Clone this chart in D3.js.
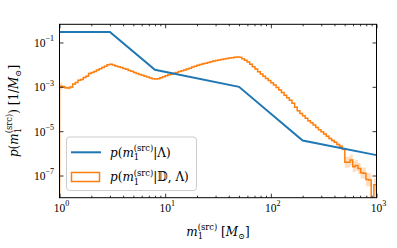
<!DOCTYPE html>
<html>
<head>
<meta charset="utf-8">
<script src="https://cdn.jsdelivr.net/npm/d3@7"></script>
<style>
  html, body { margin: 0; padding: 0; background: #fff; }
  svg { display: block; }
  text { fill: #000; }
</style>
</head>
<body>
<svg id="chart" width="397" height="248"></svg>
<script>
// ---------------- data ----------------
// population model p(m1|Λ): broken power law, read at its break points
const popMass = [1, 3, 8, 50, 200, 1000];
const popDens = [0.30, 0.30, 5.9e-3, 1.0e-3, 3.8e-6, 8.3e-7];

// posterior-predictive histogram p(m1|D,Λ): 120 log-spaced bins between 1 and 1000 Msun
const histRange = [1, 1000];
const histDens = [
  1.07e-3, 1.02e-3, 9.12e-4, 8.91e-4, 9.77e-4, 1.35e-3, 1.58e-3, 2.00e-3, 2.14e-3, 2.63e-3,
  3.02e-3, 3.98e-3, 4.37e-3, 4.90e-3, 5.75e-3, 6.46e-3, 7.41e-3, 8.51e-3, 9.77e-3, 1.05e-2,
  9.55e-3, 8.71e-3, 8.13e-3, 7.41e-3, 6.76e-3, 6.17e-3, 5.50e-3, 5.01e-3, 4.47e-3, 3.98e-3,
  3.63e-3, 3.31e-3, 3.02e-3, 2.75e-3, 2.51e-3, 2.29e-3, 2.24e-3, 2.29e-3, 2.57e-3, 2.88e-3,
  3.16e-3, 3.47e-3, 3.72e-3, 4.07e-3, 4.47e-3, 4.90e-3, 5.37e-3, 5.75e-3, 6.31e-3, 6.92e-3,
  7.76e-3, 8.51e-3, 9.33e-3, 1.02e-2, 1.10e-2, 1.17e-2, 1.26e-2, 1.35e-2, 1.45e-2, 1.55e-2,
  1.62e-2, 1.70e-2, 1.82e-2, 1.91e-2, 2.00e-2, 2.04e-2, 2.14e-2, 2.19e-2, 2.14e-2, 1.86e-2,
  1.58e-2, 1.32e-2, 1.05e-2, 8.13e-3, 6.31e-3, 4.79e-3, 3.80e-3, 3.02e-3, 2.40e-3, 1.91e-3,
  1.51e-3, 1.20e-3, 9.33e-4, 7.24e-4, 5.50e-4, 4.17e-4, 3.24e-4, 2.51e-4, 1.82e-4, 1.20e-4,
  8.32e-5, 6.31e-5, 5.01e-5, 3.80e-5, 2.95e-5, 2.40e-5, 1.91e-5, 1.48e-5, 1.17e-5, 9.33e-6,
  7.41e-6, 5.89e-6, 4.68e-6, 3.80e-6, 3.16e-6, 2.51e-6, 2.09e-6, 1.58e-6, 3.98e-7, 3.98e-7,
  5.01e-7, 2.51e-7, 2.82e-7, 2.09e-7, 1.32e-7, 1.26e-7, 6.61e-8, 6.31e-8, 0, 3.80e-8
];
// half-width of the shaded uncertainty band, in dex, per bin
const histErrDex = [
  0.15, 0.06, 0.06, 0.06, 0.06, 0.03, 0.03, 0.03, 0.03, 0.03,
  0.03, 0.03, 0.03, 0.03, 0.03, 0.03, 0.03, 0.03, 0.03, 0.03,
  0.02, 0.02, 0.02, 0.02, 0.02, 0.02, 0.02, 0.02, 0.02, 0.02,
  0.02, 0.02, 0.02, 0.02, 0.02, 0.02, 0.02, 0.02, 0.02, 0.02,
  0.02, 0.02, 0.02, 0.02, 0.02, 0.02, 0.02, 0.02, 0.02, 0.02,
  0.02, 0.02, 0.02, 0.02, 0.02, 0.02, 0.02, 0.02, 0.02, 0.02,
  0.02, 0.02, 0.02, 0.02, 0.02, 0.02, 0.02, 0.02, 0.02, 0.02,
  0.02, 0.02, 0.02, 0.02, 0.02, 0.02, 0.02, 0.02, 0.02, 0.02,
  0.03, 0.03, 0.03, 0.03, 0.03, 0.03, 0.03, 0.03, 0.03, 0.03,
  0.03, 0.03, 0.03, 0.03, 0.03, 0.03, 0.03, 0.03, 0.03, 0.03,
  0.06, 0.06, 0.06, 0.06, 0.06, 0.06, 0.08, 0.08, 0.25, 0.25,
  0.25, 0.25, 0.25, 0.25, 0.25, 0.25, 0.30, 0.30, 0, 0.30
];

const xMajor = [1, 10, 100, 1000];
const xMajorExp = ["0", "1", "2", "3"];
const yMajor = [1e-1, 1e-3, 1e-5, 1e-7];
const yMajorExp = ["\u22121", "\u22123", "\u22125", "\u22127"];
const legendLabels = ["\u039B", "\uD835\uDD3B, \u039B"];

// ---------------- layout ----------------
const svg = d3.select("#chart");
const L = 59.5, R = 376.5, T = 24.3, B = 197.7;
const x = d3.scaleLog().domain([1, 1000]).range([L, R]);
const y = d3.scaleLog().domain([1e-8, 0.66]).range([B, T]);
const BLUE = "#1f77b4", ORANGE = "#ff7f0e";
const SERIF = "'DejaVu Serif', serif";
const TICKF = "'Liberation Serif', serif";

svg.append("defs").append("clipPath").attr("id", "clip")
  .append("rect").attr("x", L).attr("y", T).attr("width", R - L).attr("height", B - T);

const plot = svg.append("g").attr("clip-path", "url(#clip)");

// bin edges
const nBins = histDens.length;
const lg0 = Math.log10(histRange[0]), lg1 = Math.log10(histRange[1]);
const edges = d3.range(nBins + 1).map(i => Math.pow(10, lg0 + (lg1 - lg0) * i / nBins));
const yv = v => v > 0 ? y(v) : B + 6;

// uncertainty band
const bandPts = edges.map((e, i) => {
  const k = Math.min(i, nBins - 1);
  const v = histDens[k], d = histErrDex[k];
  return { e, lo: v > 0 ? v * Math.pow(10, -d) : 0, hi: v > 0 ? v * Math.pow(10, d) : 0 };
});
plot.append("path")
  .attr("d", d3.area().curve(d3.curveStepAfter)
    .x(d => x(d.e)).y0(d => yv(d.lo)).y1(d => yv(d.hi))(bandPts))
  .attr("fill", ORANGE).attr("fill-opacity", 0.25).attr("stroke", "none");

// step histogram outline
const stepPts = [[x(edges[0]), B + 6]];
histDens.forEach((v, i) => {
  stepPts.push([x(edges[i]), yv(v)]);
  stepPts.push([x(edges[i + 1]), yv(v)]);
});
stepPts.push([x(edges[nBins]), B + 6]);
plot.append("path").attr("d", d3.line()(stepPts))
  .attr("fill", "none").attr("stroke", ORANGE).attr("stroke-width", 1.5)
  .attr("stroke-linejoin", "miter");

// population line
plot.append("path")
  .attr("d", d3.line().x((d, i) => x(popMass[i])).y(d => y(d))(popDens))
  .attr("fill", "none").attr("stroke", BLUE).attr("stroke-width", 2);

// ---------------- axes ----------------
const xMinor = [];
[1, 10, 100].forEach(b => d3.range(2, 10).forEach(k => xMinor.push(b * k)));

function axisG(axisFn, scale, vals, size, tx, ty) {
  const g = svg.append("g").attr("transform", `translate(${tx},${ty})`)
    .call(axisFn(scale).tickValues(vals).tickSize(size).tickFormat(""));
  g.select(".domain").remove();
  g.selectAll(".tick line").attr("stroke", "#000").attr("stroke-width", 0.8);
  return g;
}
axisG(d3.axisBottom, x, xMajor, -4, 0, B);
axisG(d3.axisBottom, x, xMinor, -2, 0, B);
axisG(d3.axisTop, x, xMajor, -4, 0, T);
axisG(d3.axisTop, x, xMinor, -2, 0, T);
axisG(d3.axisLeft, y, yMajor, -4, L, 0);
axisG(d3.axisRight, y, yMajor, -4, R, 0);

svg.append("rect").attr("x", L).attr("y", T).attr("width", R - L).attr("height", B - T)
  .attr("fill", "none").attr("stroke", "#000").attr("stroke-width", 1);

// ---------------- math text helper ----------------
function mathText(parent, px, py, parts, opts) {
  const fs = opts.size, small = fs * 0.7, fam = opts.family || SERIF;
  const g = parent.append("g");
  let cx = 0;
  parts.forEach(p => {
    if (p.sub !== undefined || p.sup !== undefined) {
      let w = 0;
      if (p.sub !== undefined) {
        const t = g.append("text").attr("x", cx).attr("y", fs * 0.3)
          .style("font-family", fam).style("font-size", small + "px").text(p.sub);
        w = Math.max(w, t.node().getComputedTextLength());
      }
      if (p.sup !== undefined) {
        const t = g.append("text").attr("x", cx).attr("y", -fs * (p.supUp || 0.42))
          .style("font-family", fam).style("font-size", small + "px").text(p.sup);
        w = Math.max(w, t.node().getComputedTextLength());
      }
      cx += w;
    } else {
      const t = g.append("text").attr("x", cx).attr("y", 0)
        .style("font-family", fam).style("font-size", fs + "px")
        .style("font-style", p.it ? "italic" : "normal")
        .attr("xml:space", "preserve").text(p.t);
      cx += t.node().getComputedTextLength() + (p.gap || 0);
    }
  });
  const shift = opts.anchor === "middle" ? -cx / 2 : opts.anchor === "end" ? -cx : 0;
  if (opts.rotate) {
    g.attr("transform", `translate(${px},${py}) rotate(-90) translate(${shift},0)`);
  } else {
    g.attr("transform", `translate(${px + shift},${py})`);
  }
  return g;
}

// tick labels
xMajor.forEach((v, i) => {
  mathText(svg, x(v) + 2, 211.5, [{ t: "10" }, { sup: xMajorExp[i], supUp: 0.5 }],
    { size: 11.5, anchor: "middle", family: TICKF });
});
yMajor.forEach((v, i) => {
  mathText(svg, 54, y(v) + 4.5, [{ t: "10" }, { sup: yMajorExp[i], supUp: 0.5 }],
    { size: 11.5, anchor: "end", family: TICKF });
});

// axis labels
mathText(svg, 218, 235.5,
  [{ t: "m", it: true }, { sub: "1", sup: "(src)" }, { t: " [" }, { t: "M", it: true }, { sub: "\u2299" }, { t: "]" }],
  { size: 12, anchor: "middle" });
mathText(svg, 17.5, 111,
  [{ t: "p", it: true }, { t: "(" }, { t: "m", it: true }, { sub: "1", sup: "(src)" }, { t: ") [1/" },
   { t: "M", it: true }, { sub: "\u2299" }, { t: "]" }],
  { size: 12, anchor: "middle", rotate: true });

// ---------------- legend ----------------
const leg = svg.append("g");
leg.append("rect").attr("x", 66.5).attr("y", 137).attr("width", 130).attr("height", 53.5)
  .attr("rx", 3).attr("fill", "#fff").attr("fill-opacity", 0.8)
  .attr("stroke", "#ccc").attr("stroke-width", 1);
leg.append("line").attr("x1", 71).attr("x2", 101).attr("y1", 152.3).attr("y2", 152.3)
  .attr("stroke", BLUE).attr("stroke-width", 2);
leg.append("rect").attr("x", 71.5).attr("y", 172.5).attr("width", 28).attr("height", 9)
  .attr("fill", "none").attr("stroke", ORANGE).attr("stroke-width", 1.5);
[156.5, 181].forEach((by, i) => {
  mathText(leg, 110, by,
    [{ t: "p", it: true }, { t: "(" }, { t: "m", it: true }, { sub: "1", sup: "(src)" },
     { t: "|" }, { t: legendLabels[i] }, { t: ")" }],
    { size: 12, anchor: "start" });
});
</script>
</body>
</html>
